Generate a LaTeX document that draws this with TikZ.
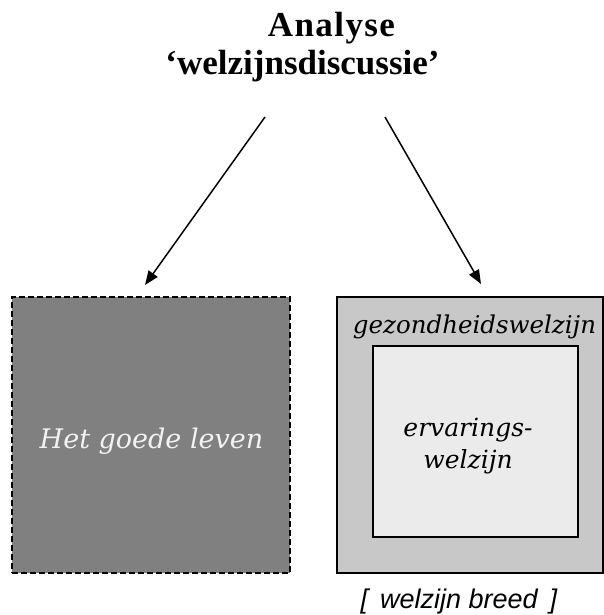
\documentclass[tikz,border=0pt]{standalone}
\usepackage{fontspec}
\setmainfont{Liberation Serif}
\newfontfamily\boxfont{DejaVu Serif}
\newfontfamily\notefont{Liberation Sans}
\usetikzlibrary{arrows.meta}
\definecolor{darkbox}{RGB}{128,128,128}
\definecolor{midbox}{RGB}{200,200,200}
\definecolor{lightbox}{RGB}{235,235,235}
\definecolor{paletext}{RGB}{242,242,242}
\tikzset{
  titletext/.style={font=\fontsize{35}{38}\selectfont\bfseries, anchor=base, inner sep=0},
  boxtext/.style={font=\boxfont\itshape\fontsize{25}{32}\selectfont, inner sep=0},
  panel/.style={draw=black, line width=1.8pt, rectangle, inner sep=0},
  link/.style={line width=1.5pt, -{Triangle[length=14pt,width=11pt]}}
}
\begin{document}
\begin{tikzpicture}[x=1pt,y=-1pt]
\useasboundingbox (0,0) rectangle (604,615);
\node[titletext] (t1) at (331.5,37) {\addfontfeatures{LetterSpace=4}Analyse};
\node[titletext] (t2) at (302.5,75) {‘welzijnsdiscussie’};
\node[panel, dash pattern=on 6pt off 3pt, fill=darkbox, minimum width=278pt, minimum height=276pt] (left) at (151,435) {};
\node[panel, fill=midbox, minimum width=266pt, minimum height=276pt] (outer) at (470,435) {};
\node[panel, fill=lightbox, minimum width=205pt, minimum height=191pt] (inner) at (475.5,441.5) {};
\node[boxtext, text=paletext, anchor=base, font=\boxfont\itshape\fontsize{27}{32}\selectfont] (hgl) at (151.5,448) {Het goede leven};
\node[boxtext, anchor=base, font=\boxfont\itshape\fontsize{24.5}{32}\selectfont] (gzw) at (474.5,333) {gezondheidswelzijn};
\node[boxtext, align=center] (erv) at (468,446) {ervarings-\\welzijn};
\node[font=\notefont\itshape\fontsize{27}{30}\selectfont, anchor=base, inner sep=0] (breed) at (459,608) {[\hspace{12pt}welzijn breed\hspace{12pt}]};
\coordinate (s1) at (265,117);
\coordinate (e1) at (145,285);
\coordinate (s2) at (385,117);
\coordinate (e2) at (481,284);
\draw[link] (s1) -- (e1);
\draw[link] (s2) -- (e2);
\end{tikzpicture}
\end{document}
